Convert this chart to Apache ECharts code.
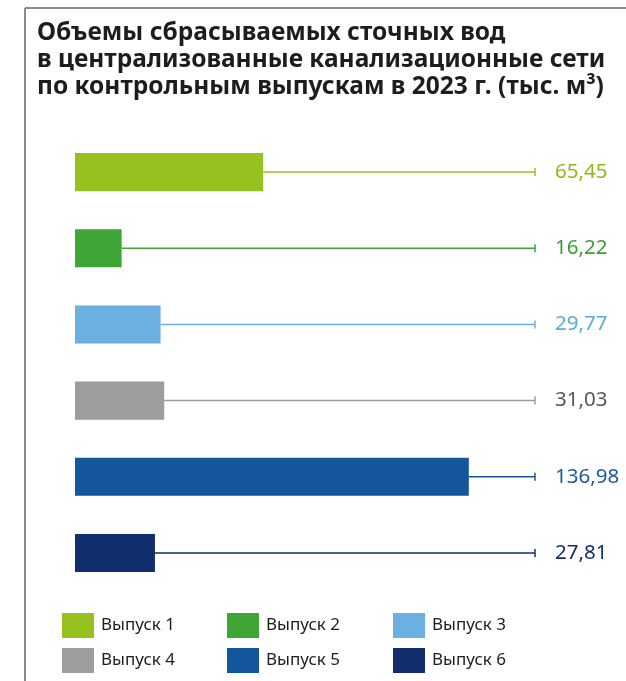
<!DOCTYPE html>
<html>
<head>
<meta charset="utf-8">
<script src="https://cdn.jsdelivr.net/npm/echarts@6/dist/echarts.min.js"></script>
<style>
html, body { margin: 0; padding: 0; background: #fff; }
#main { width: 626px; height: 681px; }
</style>
</head>
<body>
<div id="main"></div>
<script>
// данные
var categories = ['Выпуск 1', 'Выпуск 2', 'Выпуск 3', 'Выпуск 4', 'Выпуск 5', 'Выпуск 6'];
var values = [65.45, 16.22, 29.77, 31.03, 136.98, 27.81];
var barColors = ['#97c11f', '#3fa535', '#6cb0e1', '#9d9d9c', '#13569b', '#132e6d'];
var labelColors = ['#8fba1a', '#3a9e33', '#5ea9dc', '#555555', '#1d5a9c', '#132e6d'];
var axisMax = 160;

var myChart = echarts.init(document.getElementById('main'));

function fmt(v) {
    return v.toFixed(2).replace('.', ',');
}

function renderBar(params, api) {
    var idx = api.value(1);
    var start = api.coord([0, idx]);
    var end = api.coord([api.value(0), idx]);
    var stop = api.coord([axisMax, idx]);
    var h = api.size([0, 1])[1] * 0.5;
    var color = api.visual('color');
    return {
        type: 'group',
        children: [
            { type: 'line', shape: { x1: end[0], y1: end[1], x2: stop[0], y2: stop[1] },
              style: { stroke: color, lineWidth: 1.5 } },
            { type: 'line', shape: { x1: stop[0], y1: stop[1] - 4, x2: stop[0], y2: stop[1] + 4 },
              style: { stroke: color, lineWidth: 1.5 } },
            { type: 'rect', shape: { x: start[0], y: start[1] - h / 2, width: end[0] - start[0], height: h },
              style: { fill: color } },
            { type: 'text', x: stop[0] + 20, y: stop[1],
              style: { text: fmt(api.value(0)), fill: labelColors[params.seriesIndex],
                       fontSize: 20.5, fontFamily: 'Noto Sans', verticalAlign: 'middle', align: 'left' } }
        ]
    };
}

var series = categories.map(function (name, i) {
    return {
        name: name,
        type: 'custom',
        renderItem: renderBar,
        itemStyle: { color: barColors[i] },
        encode: { x: 0, y: 1 },
        data: [[values[i], i]]
    };
});

// легенда: по одному элементу, сетка 3 x 2
var legendLeft = [57, 222, 388];
var legendTop = [608, 643];
var legends = categories.map(function (name, i) {
    return {
        data: [name],
        left: legendLeft[i % 3],
        top: legendTop[Math.floor(i / 3)],
        icon: 'rect',
        itemWidth: 32,
        itemHeight: 25,
        textStyle: { fontFamily: 'Noto Sans', fontSize: 17, color: '#1d1d1b', padding: [0, 0, 0, 2] }
    };
});

option = {
    animation: false,
    title: {
        text: 'Объемы сбрасываемых сточных вод\nв централизованные канализационные сети\nпо контрольным выпускам в 2023 г. (тыс. м³)',
        left: 32,
        top: 15,
        textStyle: {
            fontFamily: 'Noto Sans',
            fontSize: 24.5,
            fontWeight: 'bold',
            lineHeight: 27,
            color: '#1d1d1b'
        }
    },
    legend: legends,
    grid: { left: 75, width: 460, top: 134, height: 457 },
    xAxis: { type: 'value', min: 0, max: axisMax, show: false },
    yAxis: { type: 'category', data: categories, inverse: true, show: false },
    graphic: [
        { type: 'line', shape: { x1: 25, y1: 8, x2: 626, y2: 8 }, style: { stroke: '#8a8a8a', lineWidth: 2 } },
        { type: 'line', shape: { x1: 25, y1: 8, x2: 25, y2: 681 }, style: { stroke: '#8a8a8a', lineWidth: 2 } }
    ],
    series: series
};

myChart.setOption(option);
</script>
</body>
</html>
